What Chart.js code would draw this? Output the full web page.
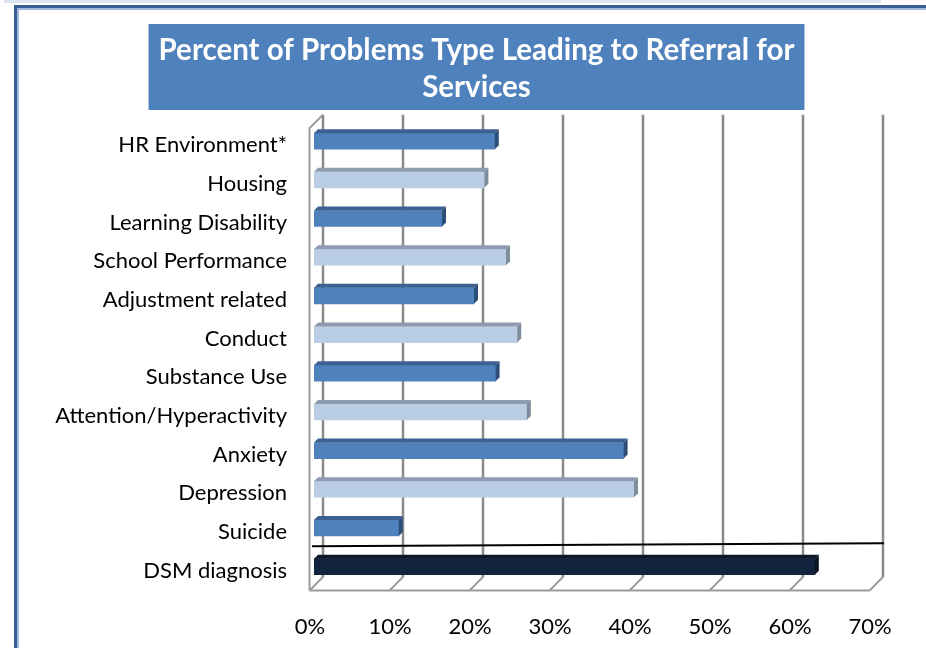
<!DOCTYPE html>
<html>
<head>
<meta charset="utf-8">
<script src="https://cdn.jsdelivr.net/npm/chart.js@4.4.1/dist/chart.umd.min.js"></script>
<style>
  html, body { margin: 0; padding: 0; background: #fff; overflow: hidden; }
  #wrap { position: relative; width: 926px; height: 648px; }
  .band { position: absolute; left: 4px; top: 0; width: 877px; height: 3px; background: #dce6f2; }
  .frame { position: absolute; left: 14px; top: 5px; width: 1000px; height: 1000px;
           border-left: 3px solid #3a5f94; border-top: 3px solid #3a5f94;
           box-shadow: inset 2px 2px 0 #9fb7da; }
  canvas { position: absolute; left: 0; top: 0; }
</style>
</head>
<body>
<div id="wrap">
  <div class="band"></div>
  <div class="frame"></div>
  <canvas id="chart" width="926" height="648"></canvas>
</div>
<script>
const titleLines = ['Percent of Problems Type Leading to Referral for', 'Services'];
const categories = [
    'HR Environment*', 'Housing', 'Learning Disability', 'School Performance',
    'Adjustment related', 'Conduct', 'Substance Use', 'Attention/Hyperactivity',
    'Anxiety', 'Depression', 'Suicide', 'DSM diagnosis'
];
const percents = [22.6, 21.3, 16.0, 24.0, 20.0, 25.4, 22.7, 26.6, 38.7, 40.0, 10.6, 62.6];
const xTicks = [0, 10, 20, 30, 40, 50, 60, 70];

const FONT = 'Lato, "Open Sans", sans-serif';
const BACK = 9;      // depth of back wall
const FRONT = 4.5;   // depth of floor front edge
const BAR_D = 4;     // bar depth
const TITLE_SHIFT = 79; // title sits right of the canvas centre

// front, top, side colours: dark / light alternate, last bar navy
const faceColor = (i, face) => {
    if (i === categories.length - 1) return ['#11233d', '#0c1a2e', '#09131f'][face];
    if (i % 2 === 0) return ['#4f81bd', '#3b6191', '#2d4e78'][face];
    return ['#b9cde5', '#8d9cae', '#7e8d9e'][face];
};

const depth3d = {
    id: 'depth3d',
    afterLayout(chart) {
        chart.titleBlock.left = TITLE_SHIFT;
    },
    beforeDraw(chart) {
        // blue box behind the title
        const ctx = chart.ctx;
        const tb = chart.titleBlock;
        const opts = chart.options.plugins.title;
        ctx.save();
        ctx.font = `bold ${opts.font.size}px ${FONT}`;
        const w = Math.max(...titleLines.map(t => ctx.measureText(t).width)) + 20;
        const cx = (tb.left + tb.right) / 2;
        const lh = opts.font.size * opts.font.lineHeight;
        const top = tb.top + opts.padding.top - 7.5;
        const bottom = tb.top + opts.padding.top + lh * titleLines.length + 4.5;
        ctx.fillStyle = '#4f81bd';
        ctx.fillRect(cx - w / 2, top, w, bottom - top);
        ctx.restore();
    },
    beforeDatasetsDraw(chart) {
        const ctx = chart.ctx;
        const xs = chart.scales.x;
        const a = chart.chartArea;
        const x0 = xs.getPixelForValue(xTicks[0]);
        const x1 = xs.getPixelForValue(xTicks[xTicks.length - 1]);
        const wallTop = a.top + 2;
        const floor = a.bottom;
        ctx.save();
        ctx.lineCap = 'butt';
        // floor
        ctx.strokeStyle = '#9c9c9c';
        ctx.lineWidth = 2;
        ctx.beginPath();
        ctx.moveTo(x0 - FRONT, floor + FRONT);
        ctx.lineTo(x1 - FRONT, floor + FRONT);
        xTicks.forEach(v => {
            const p = xs.getPixelForValue(v);
            ctx.moveTo(p + BACK, floor - BACK);
            ctx.lineTo(p - FRONT, floor + FRONT);
        });
        // left wall front edge and top
        ctx.moveTo(x0 - FRONT, floor + FRONT);
        ctx.lineTo(x0 - FRONT, wallTop + FRONT);
        ctx.lineTo(x0 + BACK, wallTop - BACK);
        ctx.stroke();
        // back wall gridlines
        ctx.strokeStyle = '#8a8a8a';
        ctx.lineWidth = 2.5;
        ctx.beginPath();
        xTicks.forEach(v => {
            const p = xs.getPixelForValue(v) + BACK;
            ctx.moveTo(p, wallTop - BACK);
            ctx.lineTo(p, floor - BACK);
        });
        ctx.stroke();
        ctx.restore();
    },
    afterDatasetsDraw(chart) {
        const ctx = chart.ctx;
        const meta = chart.getDatasetMeta(0);
        ctx.save();
        meta.data.forEach((bar, i) => {
            const { x, y, base, height } = bar.getProps(['x', 'y', 'base', 'height'], true);
            const t = y - height / 2, b = y + height / 2;
            ctx.fillStyle = faceColor(i, 1);
            ctx.beginPath();
            ctx.moveTo(base, t);
            ctx.lineTo(x, t);
            ctx.lineTo(x + BAR_D, t - BAR_D);
            ctx.lineTo(base + BAR_D, t - BAR_D);
            ctx.closePath();
            ctx.fill();
            ctx.fillStyle = faceColor(i, 2);
            ctx.beginPath();
            ctx.moveTo(x, t);
            ctx.lineTo(x + BAR_D, t - BAR_D);
            ctx.lineTo(x + BAR_D, b - BAR_D);
            ctx.lineTo(x, b);
            ctx.closePath();
            ctx.fill();
        });
        // separator between Suicide and DSM diagnosis
        const xs = chart.scales.x, ys = chart.scales.y;
        const n = categories.length;
        const yb = (ys.getPixelForValue(n - 2) + ys.getPixelForValue(n - 1)) / 2;
        ctx.strokeStyle = '#000';
        ctx.lineWidth = 2;
        ctx.beginPath();
        ctx.moveTo(xs.getPixelForValue(xTicks[0]) - 2, yb - 1);
        ctx.lineTo(xs.getPixelForValue(xTicks[xTicks.length - 1]) + 10, yb - 4);
        ctx.stroke();
        ctx.restore();
    }
};

new Chart(document.getElementById('chart'), {
    type: 'bar',
    data: {
        labels: categories,
        datasets: [{
            data: percents,
            backgroundColor: ctx => faceColor(ctx.dataIndex, 0),
            borderWidth: 0,
            barThickness: 16
        }]
    },
    options: {
        indexAxis: 'y',
        responsive: false,
        animation: false,
        layout: { padding: { left: 0, right: 52, top: 0, bottom: 10 } },
        plugins: {
            legend: { display: false },
            tooltip: { enabled: false },
            title: {
                display: true,
                text: titleLines,
                color: '#ffffff',
                font: { family: FONT, size: 29.5, weight: 'bold', lineHeight: 1.254 },
                padding: { top: 31.5, bottom: 16.3 }
            }
        },
        scales: {
            x: {
                min: 0,
                max: 70,
                afterBuildTicks: scale => { scale.ticks = xTicks.map(v => ({ value: v })); },
                afterFit: scale => { scale.height = 52; },
                grid: { display: false, drawTicks: false },
                border: { display: false },
                ticks: {
                    callback: v => v + '%',
                    color: '#000',
                    font: { family: FONT, size: 22 },
                    padding: 28,
                    labelOffset: -4,
                    maxRotation: 0
                }
            },
            y: {
                afterFit: scale => { scale.width = 314; },
                grid: { display: false, drawTicks: false },
                border: { display: false },
                ticks: {
                    color: '#000',
                    font: { family: FONT, size: 22 },
                    padding: 27,
                    labelOffset: 4,
                    autoSkip: false
                }
            }
        }
    },
    plugins: [depth3d]
});
</script>
</body>
</html>
